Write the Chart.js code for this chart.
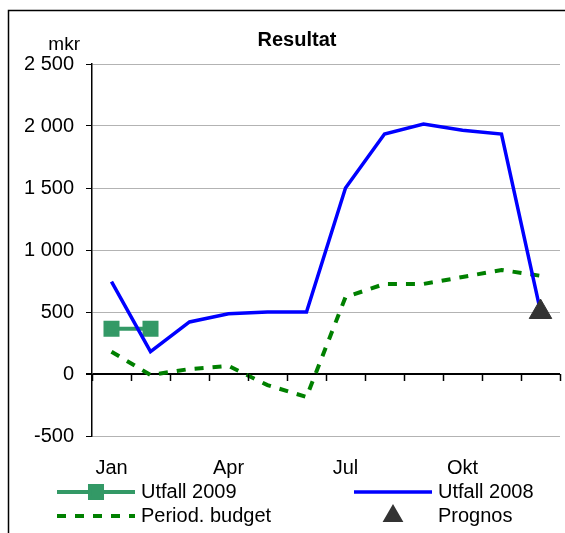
<!DOCTYPE html>
<html>
<head>
<meta charset="utf-8">
<script src="https://cdn.jsdelivr.net/npm/chart.js@4"></script>
<style>
  html, body { margin: 0; padding: 0; background: #fff; }
  #wrap { position: relative; width: 565px; height: 533px; }
</style>
</head>
<body>
<div id="wrap"><canvas id="c" width="565" height="533"></canvas></div>
<script>
// Resultat per månad (mkr)
var months = ["Jan", "Feb", "Mar", "Apr", "Maj", "Jun", "Jul", "Aug", "Sep", "Okt", "Nov", "Dec"];
var shownMonths = ["Jan", "Apr", "Jul", "Okt"];
var utfall2009 = [365, 365, null, null, null, null, null, null, null, null, null, null];
var utfall2008 = [745, 180, 420, 485, 500, 500, 1500, 1935, 2015, 1965, 1935, 505];
var budget = [180, -8, 40, 65, -90, -185, 620, 726, 726, 782, 839, 792];
var prognos = [null, null, null, null, null, null, null, null, null, null, null, 500];
var yTicks = [-500, 0, 500, 1000, 1500, 2000, 2500];

var FONT = "'Liberation Sans', Arial, sans-serif";

function fmt(v) {
  var s = String(Math.abs(v)).replace(/\B(?=(\d{3})+(?!\d))/g, " ");
  return (v < 0 ? "-" : "") + s;
}

function legendPoint(ctx, ds, x, y, r) {
  ctx.fillStyle = ds.pointBackgroundColor; ctx.strokeStyle = ds.pointBorderColor;
  Chart.helpers.drawPoint(ctx, { pointStyle: ds.pointStyle, radius: r, borderWidth: 1 }, x, y);
}

// frame, title, unit label, ticks on the zero line and the legend
var extras = {
  id: "extras",
  beforeDraw: function (chart) {
    var ctx = chart.ctx;
    ctx.save();
    ctx.strokeStyle = "#000"; ctx.lineWidth = 1.5;
    ctx.beginPath(); ctx.moveTo(565, 10.5); ctx.lineTo(8.5, 10.5); ctx.lineTo(8.5, 533); ctx.stroke();
    ctx.restore();
  },
  afterDatasetsDraw: function (chart) {
    var ctx = chart.ctx, xs = chart.scales.x, ys = chart.scales.y;
    ctx.save();
    var step = xs.getPixelForValue(1) - xs.getPixelForValue(0);
    var y0 = ys.getPixelForValue(0);
    ctx.strokeStyle = "#000"; ctx.lineWidth = 1.5;
    for (var i = 0; i <= months.length; i++) {
      var x = Math.round(xs.getPixelForValue(0) - step / 2 + i * step) + 0.5;
      ctx.beginPath(); ctx.moveTo(x, y0); ctx.lineTo(x, y0 + 7); ctx.stroke();
    }
    ctx.restore();
  },
  afterDraw: function (chart) {
    var ctx = chart.ctx;
    ctx.save();
    ctx.fillStyle = "#000";
    ctx.textBaseline = "middle";
    ctx.font = "bold 20px " + FONT;
    ctx.textAlign = "center";
    ctx.fillText("Resultat", 297, 40);
    ctx.font = "19px " + FONT;
    ctx.textAlign = "right";
    ctx.fillText("mkr", 80, 45);
    var slots = [[57, 492], [354, 492], [57, 516], [354, 516]];
    chart.data.datasets.forEach(function (ds, k) {
      var sx = slots[k][0], sy = slots[k][1], ex = sx + 78;
      if (ds.showLine !== false) {
        ctx.strokeStyle = ds.borderColor; ctx.lineWidth = ds.borderWidth;
        ctx.setLineDash(ds.borderDash || []);
        ctx.beginPath(); ctx.moveTo(sx, sy); ctx.lineTo(ex, sy); ctx.stroke();
        ctx.setLineDash([]);
      }
      if (ds.pointRadius > 0) {
        legendPoint(ctx, ds, (sx + ex) / 2, sy, ds.pointStyle === "triangle" ? 8 : ds.pointRadius);
      }
      ctx.fillStyle = "#000";
      ctx.font = "20px " + FONT;
      ctx.textAlign = "left";
      ctx.fillText(ds.label, ex + 6, sy);
    });
    ctx.restore();
  }
};

new Chart(document.getElementById("c"), {
  type: "line",
  data: {
    labels: months,
    datasets: [
      { label: "Utfall 2009", data: utfall2009, borderColor: "#339966", backgroundColor: "#339966",
        pointBackgroundColor: "#339966", pointBorderColor: "#339966",
        borderWidth: 4, pointStyle: "rect", pointRadius: 8.5, order: 2 },
      { label: "Utfall 2008", data: utfall2008, borderColor: "#0000ff", backgroundColor: "#0000ff",
        borderWidth: 3.5, pointRadius: 0, order: 1 },
      { label: "Period. budget", data: budget, borderColor: "#008000", backgroundColor: "#008000",
        borderWidth: 4, borderDash: [9, 9], pointRadius: 0, order: 3 },
      { label: "Prognos", data: prognos, showLine: false, borderColor: "#333333",
        backgroundColor: "#333333", pointBackgroundColor: "#333333", pointBorderColor: "#333333",
        pointStyle: "triangle", pointRadius: 13, borderWidth: 1, order: 0 }
    ]
  },
  options: {
    responsive: false,
    animation: false,
    layout: { autoPadding: false, padding: { top: 64, right: 5, bottom: 53, left: 0 } },
    plugins: { legend: { display: false }, title: { display: false }, tooltip: { enabled: false } },
    scales: {
      x: {
        offset: true,
        grid: { display: true, drawOnChartArea: false, drawTicks: true, tickLength: 20,
                tickColor: "rgba(0,0,0,0)", color: "rgba(0,0,0,0)", offset: true },
        border: { display: false },
        afterFit: function (s) { s.height = 44; s.paddingLeft = 0; s.paddingRight = 0; },
        ticks: {
          color: "#000", font: { family: FONT, size: 20 }, padding: 0, maxRotation: 0, autoSkip: false,
          callback: function (v, i) { return shownMonths.indexOf(months[i]) >= 0 ? months[i] : ""; }
        }
      },
      y: {
        min: -500, max: 2500,
        afterFit: function (s) { s.width = 92; },
        afterBuildTicks: function (s) { s.ticks = yTicks.map(function (v) { return { value: v }; }); },
        border: { color: "#000", width: 1.5 },
        grid: {
          color: function (c) { return c.tick && c.tick.value === 0 ? "#000" : "#b3b3b3"; },
          lineWidth: function (c) { return c.tick && c.tick.value === 0 ? 2 : 1; },
          tickColor: "#000", tickLength: 6
        },
        ticks: {
          color: "#000", font: { family: FONT, size: 20 }, padding: 12,
          callback: function (v) { return fmt(v); }
        }
      }
    }
  },
  plugins: [extras]
});
</script>
</body>
</html>
